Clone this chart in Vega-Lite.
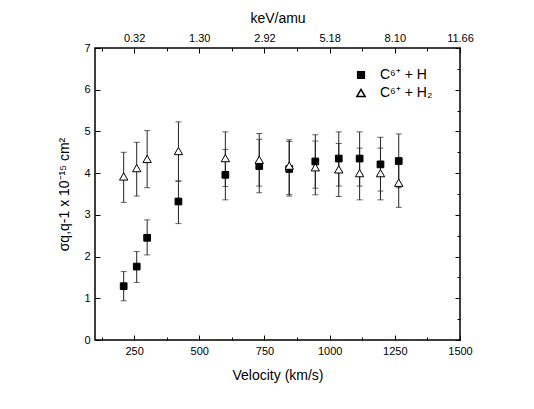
{
  "$schema": "https://vega.github.io/schema/vega-lite/v6.json",
  "width": 365,
  "height": 292,
  "autosize": "none",
  "padding": {"left": 95, "top": 48, "right": 74, "bottom": 69},
  "config": {
    "font": "Liberation Sans",
    "view": {"stroke": "black", "strokeWidth": 1.5},
    "axis": {
      "domain": false,
      "grid": false,
      "labelFont": "Liberation Sans",
      "labelFontSize": 11,
      "labelColor": "black",
      "labelOverlap": false,
      "labelFlush": false,
      "labelBound": false,
      "tickColor": "black",
      "tickWidth": 1,
      "titleFont": "Liberation Sans",
      "titleFontSize": 14,
      "titleFontWeight": "normal",
      "titleColor": "black"
    },
    "legend": {"labelFont": "Liberation Sans"}
  },
  "data": {
    "values": [
      {"v": 210, "series": "C⁶⁺ + H", "s": 1.29, "lo": 0.94, "hi": 1.64},
      {"v": 260, "series": "C⁶⁺ + H", "s": 1.76, "lo": 1.38, "hi": 2.12},
      {"v": 300, "series": "C⁶⁺ + H", "s": 2.45, "lo": 2.04, "hi": 2.88},
      {"v": 420, "series": "C⁶⁺ + H", "s": 3.32, "lo": 2.79, "hi": 3.81},
      {"v": 600, "series": "C⁶⁺ + H", "s": 3.96, "lo": 3.36, "hi": 4.57},
      {"v": 730, "series": "C⁶⁺ + H", "s": 4.17, "lo": 3.53, "hi": 4.81},
      {"v": 845, "series": "C⁶⁺ + H", "s": 4.10, "lo": 3.45, "hi": 4.76},
      {"v": 945, "series": "C⁶⁺ + H", "s": 4.28, "lo": 3.64, "hi": 4.92},
      {"v": 1035, "series": "C⁶⁺ + H", "s": 4.35, "lo": 3.69, "hi": 4.99},
      {"v": 1115, "series": "C⁶⁺ + H", "s": 4.35, "lo": 3.69, "hi": 4.99},
      {"v": 1195, "series": "C⁶⁺ + H", "s": 4.21, "lo": 3.57, "hi": 4.86},
      {"v": 1265, "series": "C⁶⁺ + H", "s": 4.29, "lo": 3.65, "hi": 4.94},
      {"v": 210, "series": "C⁶⁺ + H₂", "s": 3.92, "lo": 3.30, "hi": 4.50},
      {"v": 260, "series": "C⁶⁺ + H₂", "s": 4.12, "lo": 3.45, "hi": 4.74},
      {"v": 300, "series": "C⁶⁺ + H₂", "s": 4.34, "lo": 3.65, "hi": 5.02},
      {"v": 420, "series": "C⁶⁺ + H₂", "s": 4.53, "lo": 3.81, "hi": 5.23},
      {"v": 600, "series": "C⁶⁺ + H₂", "s": 4.36, "lo": 3.68, "hi": 4.99},
      {"v": 730, "series": "C⁶⁺ + H₂", "s": 4.32, "lo": 3.69, "hi": 4.95},
      {"v": 845, "series": "C⁶⁺ + H₂", "s": 4.18, "lo": 3.49, "hi": 4.80},
      {"v": 945, "series": "C⁶⁺ + H₂", "s": 4.14, "lo": 3.48, "hi": 4.77},
      {"v": 1035, "series": "C⁶⁺ + H₂", "s": 4.09, "lo": 3.44, "hi": 4.71},
      {"v": 1115, "series": "C⁶⁺ + H₂", "s": 4.00, "lo": 3.36, "hi": 4.60},
      {"v": 1195, "series": "C⁶⁺ + H₂", "s": 4.00, "lo": 3.36, "hi": 4.60},
      {"v": 1265, "series": "C⁶⁺ + H₂", "s": 3.77, "lo": 3.18, "hi": 4.36}
    ]
  },
  "layer": [
    {
      "mark": {"type": "rule", "color": "#222", "strokeWidth": 1},
      "encoding": {
        "x": {
          "field": "v",
          "type": "quantitative",
          "scale": {"domain": [100, 1500], "nice": false, "zero": false},
          "axis": {
            "orient": "bottom",
            "title": "Velocity (km/s)",
            "format": "d",
            "values": [125, 250, 375, 500, 625, 750, 875, 1000, 1125, 1250, 1375, 1500],
            "labelExpr": "datum.value % 250 === 0 ? datum.label : ''",
            "tickSize": {"condition": {"test": "datum.value % 250 === 0", "value": -5}, "value": -3},
            "labelPadding": 10,
            "titlePadding": 10
          }
        },
        "y": {
          "field": "lo",
          "type": "quantitative",
          "scale": {"domain": [0, 7], "nice": false},
          "axis": {
            "orient": "left",
            "title": "σq,q-1 x 10⁻¹⁵ cm²",
            "format": "d",
            "values": [0, 0.5, 1, 1.5, 2, 2.5, 3, 3.5, 4, 4.5, 5, 5.5, 6, 6.5, 7],
            "labelExpr": "datum.value % 1 === 0 ? datum.label : ''",
            "tickSize": {"condition": {"test": "datum.value % 1 === 0", "value": -5}, "value": -3},
            "labelPadding": 10,
            "titlePadding": 12
          }
        },
        "y2": {"field": "hi"}
      }
    },
    {
      "mark": {"type": "tick", "orient": "horizontal", "color": "#222", "size": 6, "thickness": 1},
      "encoding": {
        "x": {"field": "v", "type": "quantitative", "axis": null},
        "y": {"field": "lo", "type": "quantitative", "axis": null}
      }
    },
    {
      "mark": {"type": "tick", "orient": "horizontal", "color": "#222", "size": 6, "thickness": 1},
      "encoding": {
        "x": {"field": "v", "type": "quantitative", "axis": null},
        "y": {"field": "hi", "type": "quantitative", "axis": null}
      }
    },
    {
      "mark": {"type": "point", "filled": false, "stroke": "black", "strokeWidth": 1, "opacity": 1},
      "encoding": {
        "x": {
          "field": "v",
          "type": "quantitative",
          "axis": {
            "orient": "top",
            "title": "keV/amu",
            "values": [125, 250, 375, 500, 625, 750, 875, 1000, 1125, 1250, 1375, 1500],
            "labelExpr": "datum.value === 250 ? '0.32' : datum.value === 500 ? '1.30' : datum.value === 750 ? '2.92' : datum.value === 1000 ? '5.18' : datum.value === 1250 ? '8.10' : datum.value === 1500 ? '11.66' : ''",
            "tickSize": {"condition": {"test": "datum.value % 250 === 0", "value": -5}, "value": -3},
            "labelPadding": 10,
            "titlePadding": 5
          }
        },
        "y": {
          "field": "s",
          "type": "quantitative",
          "axis": {
            "orient": "right",
            "title": null,
            "labels": false,
            "values": [0, 0.5, 1, 1.5, 2, 2.5, 3, 3.5, 4, 4.5, 5, 5.5, 6, 6.5, 7],
            "tickSize": {"condition": {"test": "datum.value % 1 === 0", "value": -5}, "value": -3}
          }
        },
        "shape": {
          "field": "series",
          "type": "nominal",
          "scale": {"domain": ["C⁶⁺ + H", "C⁶⁺ + H₂"], "range": ["square", "triangle-up"]},
          "legend": {
            "title": null,
            "orient": "none",
            "legendX": 259,
            "legendY": 20,
            "labelFontSize": 14,
            "labelColor": "black",
            "rowPadding": 4,
            "labelOffset": 12,
            "symbolStrokeColor": "black"
          }
        },
        "fill": {
          "field": "series",
          "type": "nominal",
          "scale": {"domain": ["C⁶⁺ + H", "C⁶⁺ + H₂"], "range": ["black", "white"]}
        },
        "size": {
          "field": "series",
          "type": "nominal",
          "scale": {"domain": ["C⁶⁺ + H", "C⁶⁺ + H₂"], "range": [45, 70]}
        }
      }
    }
  ],
  "resolve": {"axis": {"x": "independent", "y": "independent"}}
}
